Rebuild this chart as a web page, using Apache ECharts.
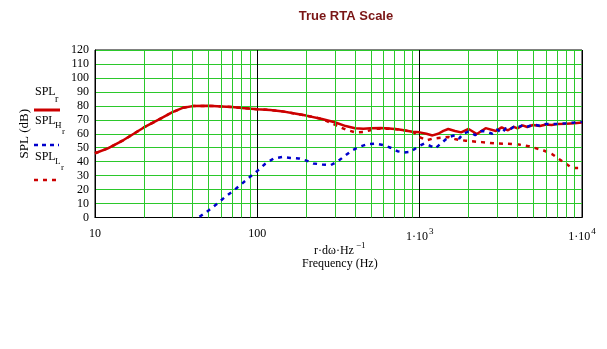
<!DOCTYPE html>
<html>
<head>
<meta charset="utf-8">
<script src="https://cdn.jsdelivr.net/npm/echarts@6/dist/echarts.min.js"></script>
<style>
  html, body { margin: 0; padding: 0; background: #ffffff; }
  #chart { width: 607px; height: 349px; }
</style>
</head>
<body>
<div id="chart"></div>
<script>
// Total response (SPL_r)
const freqT = [10,12,15,20,25,30,35,40,50,60,70,80,100,120,140,170,200,250,300,350,400,450,500,575,650,730,800,900,1000,1100,1200,1300,1400,1500,1650,1800,2000,2250,2550,2950,3200,3500,3800,4000,4300,4600,5000,5500,6000,6500,7000,8000,9000,10000];
const splT  = [46,49.5,55.5,64.5,70.5,75.5,78.7,79.8,80,79.6,79.1,78.5,77.6,77,76.2,74.5,73,70.6,68.2,65.5,64,63.5,64,64.2,63.7,63.2,62.5,61.5,61,60,58.8,60,62,63.4,62,61,63.4,59.8,64,62,64.6,62.5,65,63.8,66,64.8,66.3,65.5,66.6,66.2,66.9,67.2,67.6,68];

// High-pass branch (SPL_H_r)
const freqH = [44,50,56,63,71,80,89,100,112,126,143,160,180,203,222,251,283,311,350,385,423,476,535,603,662,729,800,880,970,1070,1180,1250,1350,1450,1550,1650,1750,1850,2000,2200,2400,2600,2800,3000,3200,3400,3600,3800,4000,4300,4600,5000,5500,6000,7000,8000,9000,10000];
const splH  = [0.5,5,9.5,14.5,19,24,28.6,33.4,38.5,42.3,43.4,42.7,42.3,40.6,38.7,38,37.5,40,44.6,48.2,50.6,52.5,53,51.8,50,47.5,46.6,47,50.6,53,51,49.5,53,56,58,59,56.5,60,61.5,59,62,61.5,60,63,60.5,64,63,65,64.5,66,65,66.5,65.8,67,67,67.5,68,68.5];

// Low-pass branch (SPL_L_r)
const freqL = [10,12,15,20,25,30,35,40,50,60,70,80,100,120,140,170,200,250,300,350,400,450,550,680,800,920,990,1110,1200,1310,1510,1670,1920,2410,2940,3500,4080,4700,5050,5800,6520,7520,8680,10000];
const splL  = [46,49.5,55.5,64.5,70.5,75.5,78.7,79.8,80,79.6,79.1,78.5,77.6,77,76.2,74.5,73,70.6,66.5,63,61,61.3,63.7,63.5,62.5,61,57.7,55.4,56.5,57,57.7,56,55,54,53,52.8,52.3,51,50,48,45.5,40.5,35.5,35.5];

// Vertical grid positions inside each decade
const minorFreqs = [20,30,40,50,60,70,80,90,200,300,400,500,600,700,800,900,2000,3000,4000,5000,6000,7000,8000,9000];
const yTicks = [0,10,20,30,40,50,60,70,80,90,100,110,120];

const pairs = (xs, ys) => xs.map((x, i) => [x, ys[i]]);

const GREEN = '#2bc82b';
const RED = '#cc0000';
const BLUE = '#0000cc';
const SERIF = '"Liberation Serif", "Times New Roman", serif';

const chart = echarts.init(document.getElementById('chart'), null, { renderer: 'canvas' });

function sup(base, s) { return '{a|' + base + '}{s|' + s + '}'; }

chart.setOption({
  animation: false,
  backgroundColor: '#ffffff',
  title: {
    text: 'True RTA Scale',
    left: 341,
    top: 5,
    textAlign: 'center',
    textStyle: { fontFamily: '"Liberation Sans", Arial, sans-serif', fontSize: 13, fontWeight: 'bold', color: '#7a1515' }
  },
  grid: {
    left: 95, right: 25, top: 50, bottom: 131.5,
    show: true, borderColor: '#000000', borderWidth: 1, backgroundColor: 'transparent'
  },
  xAxis: {
    type: 'log',
    logBase: 10,
    min: 10,
    max: 10000,
    axisLine: { show: true, lineStyle: { color: '#000', width: 1 } },
    axisTick: { show: false },
    splitLine: { show: true, lineStyle: { color: '#000', width: 1 } },
    axisLabel: {
      margin: 10,
      fontFamily: SERIF,
      fontSize: 12,
      color: '#000',
      formatter: function (v) {
        if (v >= 1000) return sup('1·10', Math.round(Math.log10(v)));
        return '{a|' + v + '}';
      },
      rich: {
        a: { fontFamily: SERIF, fontSize: 12, color: '#000' },
        s: { fontFamily: SERIF, fontSize: 9, color: '#000', padding: [0, 0, 9, 1] }
      }
    }
  },
  yAxis: {
    type: 'value',
    min: 0,
    max: 120,
    interval: 10,
    name: 'SPL (dB)',
    nameLocation: 'middle',
    nameGap: 64,
    nameRotate: 90,
    nameTextStyle: { fontFamily: SERIF, fontSize: 13, color: '#000' },
    axisLine: { show: true, lineStyle: { color: '#000', width: 1 } },
    axisTick: { show: false },
    splitLine: { show: true, lineStyle: { color: GREEN, width: 1 } },
    axisLabel: {
      margin: 6,
      fontFamily: SERIF,
      fontSize: 12,
      color: '#000',
      formatter: function (v) { return yTicks.indexOf(v) >= 0 ? String(v) : ''; }
    }
  },
  graphic: [
    // x-axis caption
    { type: 'text', left: 314, top: 245, style: { text: 'r·dω·Hz', font: '12px ' + SERIF, fill: '#000' } },
    { type: 'text', left: 356, top: 241, style: { text: '−1', font: '9px ' + SERIF, fill: '#000' } },
    { type: 'text', left: 302, top: 258, style: { text: 'Frequency (Hz)', font: '12px ' + SERIF, fill: '#000' } },
    // legend: SPL_r
    { type: 'text', left: 35, top: 86, style: { text: 'SPL', font: '12px ' + SERIF, fill: '#000' } },
    { type: 'text', left: 55, top: 94, style: { text: 'r', font: '10px ' + SERIF, fill: '#000' } },
    { type: 'line', shape: { x1: 34, y1: 110, x2: 60, y2: 110 }, style: { stroke: RED, lineWidth: 3 } },
    // legend: SPL_H_r
    { type: 'text', left: 35, top: 115, style: { text: 'SPL', font: '12px ' + SERIF, fill: '#000' } },
    { type: 'text', left: 55, top: 121, style: { text: 'H', font: '9px ' + SERIF, fill: '#000' } },
    { type: 'text', left: 62, top: 127, style: { text: 'r', font: '9px ' + SERIF, fill: '#000' } },
    { type: 'line', shape: { x1: 34, y1: 145, x2: 59, y2: 145 }, style: { stroke: BLUE, lineWidth: 2.5, lineDash: [4, 4] } },
    // legend: SPL_L_r
    { type: 'text', left: 35, top: 151, style: { text: 'SPL', font: '12px ' + SERIF, fill: '#000' } },
    { type: 'text', left: 55, top: 157, style: { text: 'L', font: '9px ' + SERIF, fill: '#000' } },
    { type: 'text', left: 61, top: 163, style: { text: 'r', font: '9px ' + SERIF, fill: '#000' } },
    { type: 'line', shape: { x1: 34, y1: 180, x2: 59, y2: 180 }, style: { stroke: RED, lineWidth: 2.5, lineDash: [4, 5] } }
  ],
  series: [
    {
      name: 'grid',
      type: 'line',
      data: [],
      z: 1,
      silent: true,
      markLine: {
        silent: true,
        symbol: 'none',
        label: { show: false },
        animation: false,
        lineStyle: { color: GREEN, width: 1, type: 'solid' },
        data: minorFreqs.map(f => ({ xAxis: f }))
      }
    },
    {
      name: 'SPL_r',
      type: 'line',
      z: 3,
      data: pairs(freqT, splT),
      showSymbol: false,
      symbol: 'none',
      lineStyle: { color: RED, width: 2.5 }
    },
    {
      name: 'SPL_L_r',
      type: 'line',
      z: 4,
      data: pairs(freqL, splL),
      showSymbol: false,
      symbol: 'none',
      lineStyle: { color: RED, width: 2.5, type: [4, 5] }
    },
    {
      name: 'SPL_H_r',
      type: 'line',
      z: 5,
      data: pairs(freqH, splH),
      showSymbol: false,
      symbol: 'none',
      lineStyle: { color: BLUE, width: 2.5, type: [4, 5] }
    }
  ]
});
</script>
</body>
</html>
